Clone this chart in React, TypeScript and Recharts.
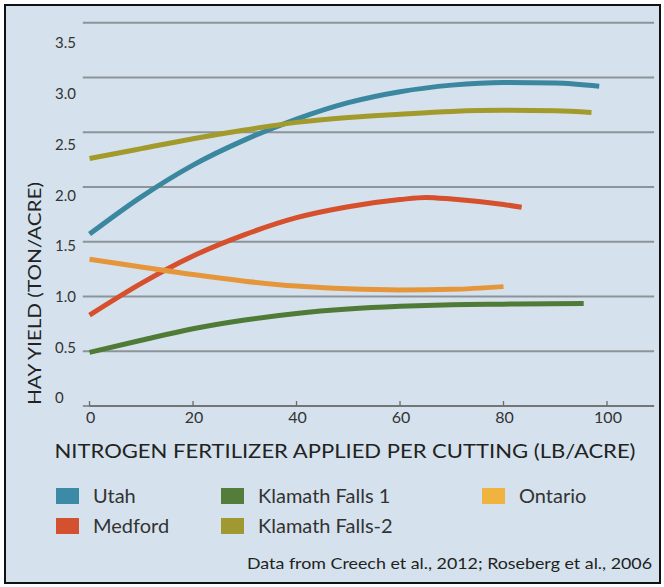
import { LineChart, Line, XAxis, YAxis, CartesianGrid, ReferenceLine } from "recharts";

// nitrogen (lb/acre) and hay yield (ton/acre) per site
const utahN = [0, 10, 20, 30, 40, 50, 60, 70, 80, 90, 98.5];
const utahYield = [1.57, 1.91, 2.2, 2.43, 2.62, 2.77, 2.87, 2.93, 2.955, 2.95, 2.92];

const medfordN = [0, 10, 20, 30, 40, 50, 60, 65, 70, 80, 83.5];
const medfordYield = [0.83, 1.12, 1.37, 1.565, 1.72, 1.82, 1.885, 1.905, 1.89, 1.84, 1.815];

const klamath1N = [0, 10, 20, 30, 40, 50, 60, 70, 80, 95.5];
const klamath1Yield = [0.49, 0.6, 0.705, 0.785, 0.845, 0.885, 0.91, 0.925, 0.93, 0.935];

const klamath2N = [0, 10, 20, 30, 40, 50, 60, 70, 80, 90, 97];
const klamath2Yield = [2.26, 2.35, 2.44, 2.52, 2.59, 2.635, 2.665, 2.69, 2.7, 2.695, 2.68];

const ontarioN = [0, 10, 20, 30, 40, 50, 60, 70, 80];
const ontarioYield = [1.34, 1.27, 1.2, 1.14, 1.095, 1.07, 1.06, 1.065, 1.09];

const xTicks = [0, 20, 40, 60, 80, 100];
const yTicks = [0, 0.5, 1, 1.5, 2, 2.5, 3, 3.5];
const yTickLabels = ["0", "0.5", "1.0", "1.5", "2.0", "2.5", "3.0", "3.5"];

const FONT = "Lato, 'Open Sans', sans-serif";
const BG = "#d5e2ed";

const toRows = (n: number[], v: number[]) => n.map((x, i) => ({ n: x, v: v[i] }));

const series = [
  { name: "Utah", data: toRows(utahN, utahYield), line: "#3a879f", swatch: "#3d8aa7" },
  { name: "Klamath Falls-2", data: toRows(klamath2N, klamath2Yield), line: "#a39a2c", swatch: "#a09831" },
  { name: "Medford", data: toRows(medfordN, medfordYield), line: "#d6502d", swatch: "#d4512f" },
  { name: "Ontario", data: toRows(ontarioN, ontarioYield), line: "#e6963a", swatch: "#f1b340" },
  { name: "Klamath Falls 1", data: toRows(klamath1N, klamath1Yield), line: "#4f7b37", swatch: "#547d3c" },
];

const legendOrder = ["Utah", "Klamath Falls 1", "Ontario", "Medford", "Klamath Falls-2"];

// labels sit left-aligned in a column at x = 55
const YTick = (props: any) => {
  const { y, index } = props;
  return (
    <text x={55} y={y} dy="0.36em" textAnchor="start" fontSize={15} fill="#333" fontFamily={FONT}>
      {yTickLabels[index]}
    </text>
  );
};

const XTick = (props: any) => {
  const { x, y, payload } = props;
  return (
    <g>
      <line x1={x} x2={x} y1={y - 5} y2={y} stroke="#6b6b6b" strokeWidth={1.3} />
      <text x={x + 1} y={y + 11} dy="0.36em" textAnchor="middle" fontSize={16} fill="#333" fontFamily={FONT}>
        {payload.value}
      </text>
    </g>
  );
};

function Legend() {
  const slots = [
    { x: 56, y: 488 },
    { x: 221, y: 488 },
    { x: 482, y: 488 },
    { x: 56, y: 518 },
    { x: 221, y: 518 },
  ];
  return (
    <>
      {legendOrder.map((name, i) => {
        const s = series.find((d) => d.name === name)!;
        const p = slots[i];
        return (
          <g key={name}>
            <rect x={p.x} y={p.y} width={23} height={16} fill={s.swatch} />
            <text x={p.x + 37} y={p.y + 8} dy="0.36em" fontSize={20} fill="#333" fontFamily={FONT}>
              {name}
            </text>
          </g>
        );
      })}
    </>
  );
}

export default function App() {
  return (
    <div style={{ position: "absolute", left: 0, top: 0, width: 664, height: 587, background: "#fff" }}>
      <div
        style={{
          position: "absolute",
          left: 4,
          top: 4,
          width: 657,
          height: 580,
          boxSizing: "border-box",
          border: "2px solid #111",
          background: BG,
        }}
      />
      <LineChart
        width={664}
        height={440}
        style={{ position: "absolute", left: 0, top: 0 }}
        margin={{ top: 22.7, right: 9.9, bottom: 0, left: 0 }}
      >
        <CartesianGrid vertical={false} stroke="#8d9399" strokeWidth={2} />
        <XAxis
          type="number"
          dataKey="n"
          domain={[-1.3, 109.1]}
          allowDataOverflow
          ticks={xTicks}
          interval={0}
          axisLine={false}
          tickLine={false}
          tickSize={0}
          tickMargin={0}
          height={34}
          tick={<XTick />}
        />
        <YAxis type="number" domain={[0, 3.5]} ticks={[0.5, 1, 1.5, 2, 2.5, 3, 3.5]} hide allowDataOverflow />
        <YAxis
          yAxisId="lbl"
          type="number"
          domain={[-0.0789, 3.7]}
          allowDataOverflow
          ticks={yTicks}
          interval={0}
          axisLine={false}
          tickLine={false}
          tickSize={0}
          tickMargin={0}
          width={82.8}
          tick={<YTick />}
        />
        <ReferenceLine
          segment={[
            { x: 0, y: 0 },
            { x: 109.1, y: 0 },
          ]}
          stroke="#6b6b6b"
          strokeWidth={1.5}
          ifOverflow="visible"
        />
        {series.map((s) => (
          <Line
            key={s.name}
            data={s.data}
            dataKey="v"
            name={s.name}
            type="monotone"
            stroke={s.line}
            strokeWidth={5}
            dot={false}
            activeDot={false}
            isAnimationActive={false}
          />
        ))}
      </LineChart>
      <svg width={664} height={587} style={{ position: "absolute", left: 0, top: 0, pointerEvents: "none" }}>
        <text
          transform="translate(41, 293.5) rotate(-90)"
          textAnchor="middle"
          fontSize={17}
          fill="#222"
          fontFamily={FONT}
          textLength={223}
          lengthAdjust="spacingAndGlyphs"
        >
          HAY YIELD (TON/ACRE)
        </text>
        <text
          x={345}
          y={458}
          textAnchor="middle"
          fontSize={19}
          fill="#222"
          fontFamily={FONT}
          textLength={581}
          lengthAdjust="spacingAndGlyphs"
        >
          NITROGEN FERTILIZER APPLIED PER CUTTING (LB/ACRE)
        </text>
        <Legend />
        <text
          x={652}
          y={569}
          textAnchor="end"
          fontSize={15}
          fill="#222"
          fontFamily={FONT}
          textLength={405}
          lengthAdjust="spacingAndGlyphs"
        >
          Data from Creech et al., 2012; Roseberg et al., 2006
        </text>
      </svg>
    </div>
  );
}
